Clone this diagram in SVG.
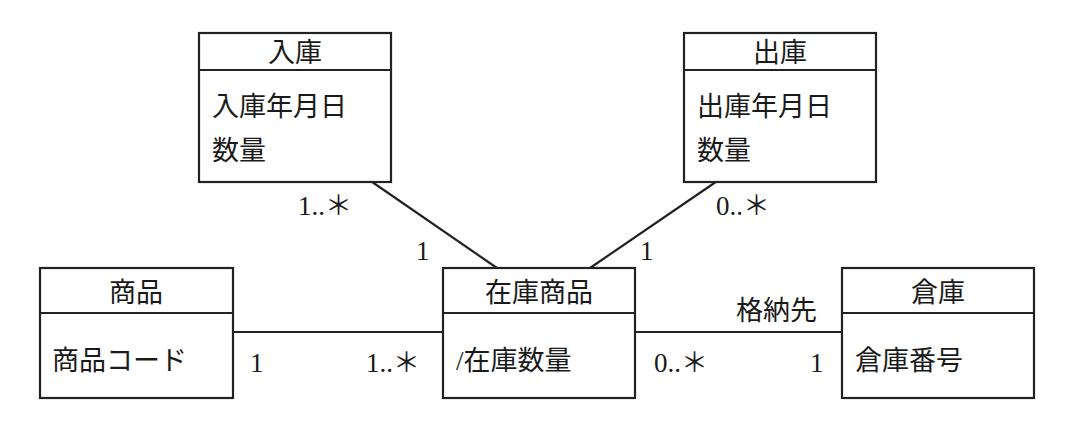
<svg xmlns="http://www.w3.org/2000/svg" width="1068" height="426" viewBox="0 0 1068 426">
<style>
.b{fill:#fff;stroke:#222;stroke-width:2.2}
.l{stroke:#222;stroke-width:2.2;fill:none}
text{font-family:"Liberation Serif","Noto Sans CJK JP",serif;font-size:27px;fill:#1a1a1a}
.c{text-anchor:middle}
</style>
<rect width="1068" height="426" fill="#fff"/>
<g id="connectors">
<line class="l" x1="362" y1="175" x2="497" y2="268"/>
<line class="l" x1="726" y1="175" x2="590" y2="268"/>
<line class="l" x1="233" y1="332" x2="443" y2="332"/>
<line class="l" x1="635" y1="332" x2="842" y2="332"/>
<text x="298" y="215">1..＊</text>
<text x="416" y="260">1</text>
<text x="716" y="215">0..＊</text>
<text x="640" y="260">1</text>
<text x="250" y="372">1</text>
<text x="366" y="372">1..＊</text>
<text x="654" y="372">0..＊</text>
<text x="736" y="320">格納先</text>
<text x="810" y="372">1</text>
</g>
<g id="nyuko">
<rect class="b" x="199" y="33" width="192" height="149"/>
<line class="l" x1="199" y1="70" x2="391" y2="70"/>
<text class="c" x="295" y="62">入庫</text>
<text x="212" y="116">入庫年月日</text>
<text x="212" y="160">数量</text>
</g>
<g id="shukko">
<rect class="b" x="684" y="33" width="192" height="149"/>
<line class="l" x1="684" y1="70" x2="876" y2="70"/>
<text class="c" x="780" y="62">出庫</text>
<text x="697" y="116">出庫年月日</text>
<text x="697" y="160">数量</text>
</g>
<g id="shohin">
<rect class="b" x="40" y="268" width="193" height="130"/>
<line class="l" x1="40" y1="313" x2="233" y2="313"/>
<text class="c" x="136" y="302">商品</text>
<text x="52" y="370">商品コード</text>
</g>
<g id="zaiko">
<rect class="b" x="443" y="268" width="192" height="130"/>
<line class="l" x1="443" y1="313" x2="635" y2="313"/>
<text class="c" x="539" y="302">在庫商品</text>
<text x="456" y="370">/在庫数量</text>
</g>
<g id="soko">
<rect class="b" x="842" y="268" width="192" height="130"/>
<line class="l" x1="842" y1="313" x2="1034" y2="313"/>
<text class="c" x="938" y="302">倉庫</text>
<text x="855" y="370">倉庫番号</text>
</g>
</svg>
